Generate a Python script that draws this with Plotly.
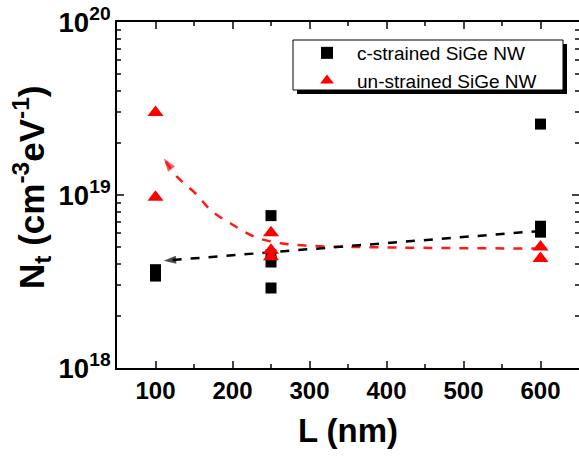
import plotly.graph_objects as go

# data
c_x = [100, 100, 250, 250, 250, 250, 600, 600, 600]
c_y = [3.7e18, 3.4e18, 7.6e18, 4.5e18, 4.1e18, 2.9e18, 2.57e19, 6.6e18, 6.1e18]
u_x = [100, 100, 250, 250, 250, 600, 600]
u_y = [3.0e19, 9.7e18, 6.05e18, 4.8e18, 4.4e18, 5.0e18, 4.3e18]

# trend guides
black_trend_x = [600, 110.7]
black_trend_y = [6.2e18, 4.17e18]
red_trend_x = [600, 415, 294.5, 259.5, 229.8, 198.7, 172.8, 152, 127.6, 110.7]
red_trend_y = [4.9e18, 4.97e18, 5.1e18, 5.3e18, 5.7e18, 6.8e18, 8.1e18, 1.02e19, 1.28e19, 1.63e19]

x_ticks = [100, 200, 300, 400, 500, 600]

FONT = "Liberation Sans, Arial, sans-serif"
L, R, T, B = 117, 0, 22, 91
PW, PH = 579 - L - R, 459 - T - B

fig = go.Figure()

fig.add_trace(go.Scatter(x=red_trend_x, y=red_trend_y, mode="lines",
                         line=dict(color="#ff1a1a", width=2.5, dash="dash", shape="spline"),
                         showlegend=False, hoverinfo="skip"))
fig.add_trace(go.Scatter(x=red_trend_x[-2:], y=red_trend_y[-2:], mode="markers",
                         marker=dict(symbol="arrow", angleref="previous", size=[0, 14],
                                     color="#ff1a1a", line=dict(width=0)),
                         showlegend=False, hoverinfo="skip"))
fig.add_trace(go.Scatter(x=black_trend_x, y=black_trend_y, mode="lines",
                         line=dict(color="black", width=2.5, dash="dash"),
                         showlegend=False, hoverinfo="skip"))
fig.add_trace(go.Scatter(x=black_trend_x, y=black_trend_y, mode="markers",
                         marker=dict(symbol="arrow", angleref="previous", size=[0, 13],
                                     color="black", line=dict(width=0)),
                         showlegend=False, hoverinfo="skip"))

fig.add_trace(go.Scatter(x=c_x, y=c_y, mode="markers", name="c-strained SiGe NW",
                         marker=dict(symbol="square", size=11, color="black")))
fig.add_trace(go.Scatter(x=u_x, y=u_y, mode="markers", name="un-strained SiGe NW",
                         marker=dict(symbol="triangle-up", size=14, color="#ff0000")))

def px_x(p):
    return (p - L) / PW

def px_y(p):
    return (459 - B - p) / PH

# legend box with shadow
fig.add_shape(type="rect", xref="paper", yref="paper",
              x0=px_x(297), x1=px_x(567), y0=px_y(94), y1=px_y(44),
              fillcolor="black", line=dict(width=0), layer="above")
fig.add_shape(type="rect", xref="paper", yref="paper",
              x0=px_x(293), x1=px_x(563), y0=px_y(90), y1=px_y(40),
              fillcolor="white", line=dict(color="black", width=1), layer="above")

# y-axis title placed as rotated text
fig.add_annotation(xref="paper", yref="paper", x=px_x(31), y=px_y(188),
                   xanchor="center", yanchor="middle", showarrow=False, textangle=-90,
                   text="<b>N<sub>t</sub> (cm<sup>-3</sup>eV<sup>-1</sup>)</b>",
                   font=dict(size=35, family=FONT, color="black"))

fig.update_layout(
    width=579, height=459,
    margin=dict(l=L, r=R, t=T, b=B),
    paper_bgcolor="white", plot_bgcolor="white",
    font=dict(family=FONT, color="black"),
    legend=dict(x=px_x(297), y=px_y(34), xanchor="left", yanchor="top",
                bgcolor="rgba(0,0,0,0)", borderwidth=0, itemwidth=50,
                font=dict(size=19, family=FONT), itemsizing="constant",
                tracegroupgap=0),
    xaxis=dict(range=[50, 650], tickvals=x_ticks, ticks="inside", ticklen=7, tickwidth=2,
               showline=True, linewidth=2, linecolor="black", mirror="ticks",
               showgrid=False, zeroline=False, automargin=False,
               tickfont=dict(size=24, family=FONT, weight="bold"),
               minor=dict(tickvals=[150, 250, 350, 450, 550], ticks="inside", ticklen=4,
                          tickwidth=1.5, showgrid=False),
               title=dict(text="<b>L (nm)</b>", font=dict(size=33, family=FONT), standoff=16)),
    yaxis=dict(type="log", range=[18, 20], dtick=1, exponentformat="power",
               ticks="inside", ticklen=7, tickwidth=2,
               showline=True, linewidth=2, linecolor="black", mirror="ticks",
               showgrid=False, zeroline=False, automargin=False,
               tickfont=dict(size=22, family=FONT, weight="bold"),
               minor=dict(dtick="D1", ticks="inside", ticklen=4, tickwidth=1.5, showgrid=False)),
)

fig.write_html("out.html", config={"displayModeBar": False},
               post_script="document.body.style.margin='0';document.body.style.overflow='hidden';")
